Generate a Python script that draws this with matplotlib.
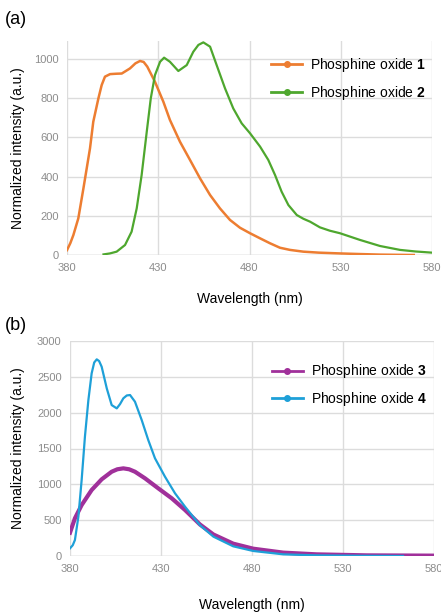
import matplotlib
matplotlib.use("Agg")
import matplotlib.pyplot as plt
from matplotlib.lines import Line2D

plt.rcParams['font.family'] = ['Liberation Sans', 'DejaVu Sans']
plt.rcParams['mathtext.fontset'] = 'custom'
plt.rcParams['mathtext.bf'] = 'Liberation Sans:bold'
plt.rcParams['mathtext.rm'] = 'Liberation Sans'

# ---------------- data (a) ----------------
wl_1 = [380, 381.8, 383.5, 386.2, 389, 390.8, 392.6, 394.4, 397.2, 399, 400.8, 403.6,
        407, 410, 414.5, 417.5, 420, 422, 424, 428.2, 432.8, 436.4, 441.9, 447.4,
        452.9, 458.4, 463.8, 469.3, 474.8, 480.3, 485.8, 491.2, 496.7, 502.2, 509.5,
        518, 529.6, 540, 551.5, 560, 570]
int_1 = [25, 60, 102, 187, 340, 442, 544, 680, 799, 867, 910, 923,
         925, 926, 952, 978, 990, 985, 961, 884, 782, 689, 578, 485,
         391, 306, 238, 179, 139, 111, 85, 60, 37, 26, 17,
         12, 8, 5, 2, 1, 0]

wl_2 = [400, 403.5, 407.2, 411.8, 415.4, 418.2, 420.9, 423.7, 425.9, 428.2, 431, 433.2,
        436.4, 441, 445.6, 449.2, 452, 454.7, 458.4, 462, 466.6, 471.1, 475.7, 480.3,
        485.8, 490.3, 494, 497.6, 501.3, 505.9, 509.5, 513.2, 518.6, 524, 529.6, 540.5,
        551.5, 562.5, 571, 580]
int_2 = [3, 8, 17, 51, 119, 238, 408, 629, 799, 918, 986, 1007,
         986, 939, 969, 1037, 1072, 1085, 1063, 969, 850, 748, 672, 621,
         553, 485, 408, 323, 255, 204, 185, 170, 141, 124, 111, 77,
         46, 26, 18, 12]

# ---------------- data (b) ----------------
wl_3 = [380, 382.7, 386.4, 391.9, 397.4, 402.9, 406, 409.3, 412.5, 415.7, 421.2, 428.5,
        435.9, 443.2, 451.4, 458.8, 469.7, 480.7, 497.2, 515.5, 543, 580]
int_3 = [325, 526, 711, 921, 1070, 1176, 1210, 1223, 1210, 1176, 1084, 944,
         805, 642, 440, 300, 172, 102, 47, 23, 9, 5]

wl_4 = [380, 381.5, 382.7, 384.6, 386.4, 388.2, 390.1, 391.9, 393.3, 394.7, 396, 397.4,
        400.2, 402.9, 405.7, 407.5, 409.3, 411.2, 413, 415.7, 419.4, 423, 426.7, 432.2,
        437.7, 443.2, 451.4, 458.8, 469.7, 480.7, 497.2, 515.5, 540, 563]
int_4 = [107, 150, 223, 548, 1060, 1664, 2176, 2549, 2700, 2744, 2720, 2641,
         2339, 2106, 2060, 2120, 2200, 2240, 2246, 2153, 1897, 1618, 1363, 1106,
         875, 688, 430, 270, 135, 70, 23, 9, 3, 0]

xticks = [380, 430, 480, 530, 580]
yticks_a = [0, 200, 400, 600, 800, 1000]
yticks_b = [0, 500, 1000, 1500, 2000, 2500, 3000]

labels_a = ['Phosphine oxide $\\mathbf{1}$', 'Phosphine oxide $\\mathbf{2}$']
labels_b = ['Phosphine oxide $\\mathbf{3}$', 'Phosphine oxide $\\mathbf{4}$']

c1, c2, c3, c4 = '#ED7D31', '#4EA72E', '#A0309A', '#1EA0D8'

W, H = 441, 613
fig = plt.figure(figsize=(W / 100, H / 100), dpi=100)


def px_axes(l, r, t, b):
    return fig.add_axes([l / W, 1 - b / H, (r - l) / W, (b - t) / H])


def style(ax, yticks, ymax):
    ax.set_xlim(380, 580)
    ax.set_ylim(0, ymax)
    ax.set_xticks(xticks)
    ax.set_yticks(yticks)
    for s in ax.spines.values():
        s.set_visible(False)
    ax.grid(True, color='#dcdcdc', linewidth=1)
    ax.set_axisbelow(True)
    ax.tick_params(length=0, labelsize=8, labelcolor='#8c8c8c', pad=6)
    ax.axhline(0, color='#cfcfcf', linewidth=1, zorder=0.5)


ax1 = px_axes(67, 432, 41, 255)
style(ax1, yticks_a, 1092)
ax1.plot(wl_1, int_1, color=c1, lw=1.8, solid_joinstyle='round')
ax1.plot(wl_2, int_2, color=c2, lw=1.6, solid_joinstyle='round')
h1 = [Line2D([], [], color=c1, lw=2, marker='o', ms=4),
      Line2D([], [], color=c2, lw=2, marker='o', ms=4)]
ax1.legend(h1, labels_a, loc='upper left', bbox_to_anchor=(0.56, 0.93), frameon=False,
           fontsize=10, handlelength=2.2, handletextpad=0.6, labelspacing=0.7,
           borderpad=0, borderaxespad=0)
ax1.set_xlabel('Wavelength (nm)', fontsize=10, va='center')
ax1.xaxis.set_label_coords(0.5, -0.206)
ax1.set_ylabel('Normalized intensity (a.u.)', fontsize=10, va='center')
ax1.yaxis.set_label_coords(-0.134, 0.5)
fig.text(5 / W, 1 - 20 / H, '(a)', fontsize=13, va='center', ha='left')

ax2 = px_axes(70, 434, 341, 556)
style(ax2, yticks_b, 3000)
ax2.plot(wl_3, int_3, color=c3, lw=3, solid_joinstyle='round')
ax2.plot(wl_4, int_4, color=c4, lw=1.6, solid_joinstyle='round')
h2 = [Line2D([], [], color=c3, lw=2, marker='o', ms=4),
      Line2D([], [], color=c4, lw=2, marker='o', ms=4)]
ax2.legend(h2, labels_b, loc='upper left', bbox_to_anchor=(0.555, 0.9), frameon=False,
           fontsize=10, handlelength=2.2, handletextpad=0.6, labelspacing=0.7,
           borderpad=0, borderaxespad=0)
ax2.set_xlabel('Wavelength (nm)', fontsize=10, va='center')
ax2.xaxis.set_label_coords(0.5, -0.228)
ax2.set_ylabel('Normalized intensity (a.u.)', fontsize=10, va='center')
ax2.yaxis.set_label_coords(-0.143, 0.5)
fig.text(5 / W, 1 - 325 / H, '(b)', fontsize=13, va='center', ha='left')

fig.savefig('out.png', dpi=100)
